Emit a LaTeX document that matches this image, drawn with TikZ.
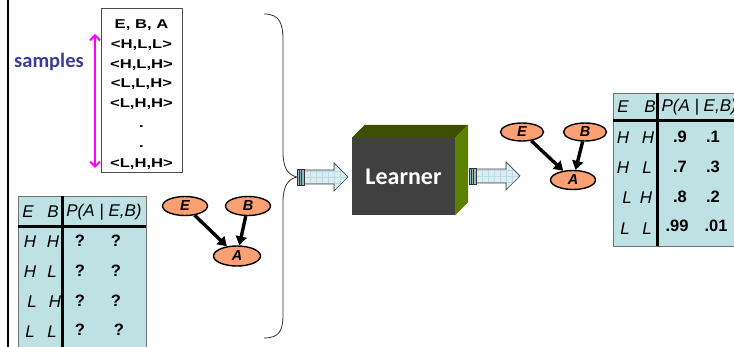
\documentclass[tikz,border=0pt]{standalone}
\usepackage{fontspec}
\setmainfont{Liberation Sans}
\newfontfamily\datafont[FakeStretch=1.3]{Liberation Sans}
\newfontfamily\calfont{Carlito}
\usetikzlibrary{shapes.geometric,arrows.meta,calc}

\definecolor{cptblue}{RGB}{190,225,228}
\definecolor{bnorange}{RGB}{250,160,115}
\definecolor{samplecol}{RGB}{60,60,150}
\definecolor{cubefront}{RGB}{64,64,64}
\definecolor{cubetop}{RGB}{62,80,0}
\definecolor{cubeside}{RGB}{92,128,0}
\definecolor{arrowfill}{RGB}{218,238,242}
\definecolor{arrowgrid}{RGB}{188,218,226}
\definecolor{tailfill}{RGB}{150,185,188}
\definecolor{spanpink}{RGB}{255,0,255}

\tikzset{
  blockarrow/.pic={
    \path[fill=arrowfill] (7,-7) -- (37,-7) -- (37,-14) -- (51,0) -- (37,14) -- (37,7) -- (7,7) -- cycle;
    \begin{scope}
      \clip (7,-7) -- (37,-7) -- (37,-14) -- (51,0) -- (37,14) -- (37,7) -- (7,7) -- cycle;
      \foreach \gx in {13,19,...,49} \draw[arrowgrid, line width=0.4pt] (\gx,-15) -- (\gx,15);
      \foreach \gy in {-12,-6,0,6,12} \draw[arrowgrid, line width=0.4pt] (7,\gy) -- (52,\gy);
    \end{scope}
    \draw[black!75, line width=0.7pt, line join=miter] (7,-7) -- (37,-7) -- (37,-14) -- (51,0) -- (37,14) -- (37,7) -- (7,7);
    \filldraw[fill=tailfill, draw=black!80, line width=0.7pt] (0,-8) rectangle (7,8);
    \draw[black!80, line width=0.6pt] (2.5,-8) -- (2.5,8) (4.5,-8) -- (4.5,8);
  }
}

\begin{document}
\begin{tikzpicture}[x=1pt,y=-1pt,
  bnnode/.style={ellipse, draw, line width=1.4pt, fill=bnorange, inner sep=0pt,
    minimum width=45, minimum height=19, font=\bfseries\itshape\fontsize{14.5}{14.5}\selectfont},
  bnedge/.style={-{Triangle[length=9pt,width=11pt]}, line width=3.4pt},
  cptbox/.style={draw=black!55, line width=0.6pt, fill=cptblue, anchor=north west, inner sep=0pt},
  cptvar/.style={font=\itshape\fontsize{17}{17}\selectfont},
  cptval/.style={font=\bfseries\fontsize{16.5}{16.5}\selectfont},
  hdrline/.style={line width=3pt},
  dataline/.style={font=\datafont\bfseries\fontsize{12.8}{12.8}\selectfont, anchor=base},
]
\useasboundingbox (0,0) rectangle (734,347);
\clip (0,0) rectangle (734,347);

% left margin rule
\draw[line width=2.2pt] (8,-2) -- (8,350);

% ---------- data samples ----------
\node[draw=black!70, line width=0.8pt, minimum width=81, minimum height=164, inner sep=0pt] (databox) at (141.5,90) {};
\node[dataline] (h0) at (141.5,28.5) {E, B, A};
\node[dataline] (s1) at (141.5,48.3) {<H,L,L>};
\node[dataline] (s2) at (141.5,68.1) {<H,L,H>};
\node[dataline] (s3) at (141.5,87.9) {<L,L,H>};
\node[dataline] (s4) at (141.5,107.7) {<L,H,H>};
\node[dataline] (d1) at (141.5,127.5) {.};
\node[dataline] (d2) at (141.5,147.3) {.};
\node[dataline] (s5) at (141.5,167.1) {<L,H,H>};

\node[font=\calfont\bfseries\fontsize{20.5}{20.5}\selectfont, text=samplecol] (samplelbl) at (49,62) {samples};
\coordinate (magtop) at (95,34);
\coordinate (magbot) at (95,168);
\draw[spanpink, line width=2pt, {Straight Barb[length=5pt,width=10pt]}-{Straight Barb[length=5pt,width=10pt]}] (magtop) -- (magbot);

% ---------- prior CPT (unknown) ----------
\node[cptbox, minimum width=128, minimum height=170] (cptL) at (18,196) {};
\draw[hdrline] (18,227) -- (146,227);
\draw[hdrline] (62,196) -- (62,350);
\node[cptvar] (lhE) at (28,212) {E};
\node[cptvar] (lhB) at (53,212) {B};
\node[cptvar] (lhP) at (104,212) {P(A | E,B)};
\node[cptvar] (l1a) at (30,242) {H};  \node[cptvar] (l1b) at (53,242) {H};
\node[cptvar] (l2a) at (30,272) {H};  \node[cptvar] (l2b) at (52,272) {L};
\node[cptvar] (l3a) at (32,302) {L};  \node[cptvar] (l3b) at (55,302) {H};
\node[cptvar] (l4a) at (30,332) {L};  \node[cptvar] (l4b) at (52,332) {L};
\node[cptval] (q1a) at (80,241) {?}; \node[cptval] (q1b) at (116,241) {?};
\node[cptval] (q2a) at (80,271) {?}; \node[cptval] (q2b) at (116,271) {?};
\node[cptval] (q3a) at (80,301) {?}; \node[cptval] (q3b) at (116,301) {?};
\node[cptval] (q4a) at (80,330) {?}; \node[cptval] (q4b) at (119,330) {?};

% ---------- prior network ----------
\node[bnnode] (E1) at (185,206) {E};
\node[bnnode] (B1) at (248,206) {B};
\node[bnnode, minimum width=47, minimum height=20] (A1) at (237,256) {A};
\draw[bnedge] (E1) -- (A1);
\draw[bnedge] (B1) -- (A1);

% ---------- brace gathering the inputs ----------
\coordinate (bracetip) at (297,177);
\draw[black!80, line width=0.8pt]
  (264,14) .. controls (280,14) and (283,24) .. (283,40) -- (283,152)
  .. controls (283,168) and (288,175) .. (bracetip)
  .. controls (288,179) and (283,186) .. (283,202) -- (283,314)
  .. controls (283,330) and (280,338) .. (264,338);

% ---------- learner ----------
\node[fill=cubefront, minimum width=103, minimum height=77, inner sep=0pt, text=white,
  font=\calfont\bfseries\fontsize{24}{24}\selectfont] (learner) at (403.5,176.5) {\raisebox{-1.5pt}{Learner}};
\fill[cubetop] (learner.north west) -- ++(13,-13) -- ($(learner.north east)+(13,-13)$) -- (learner.north east) -- cycle;
\fill[cubeside] (learner.north east) -- ++(13,-13) -- ($(learner.south east)+(13,-13)$) -- (learner.south east) -- cycle;

\coordinate (outtail) at (469,176);
\pic at (bracetip) {blockarrow};
\pic at (outtail) {blockarrow};

% ---------- learned network ----------
\node[bnnode, minimum width=43, minimum height=18] (E2) at (522,132) {E};
\node[bnnode, minimum width=43, minimum height=18] (B2) at (585,132) {B};
\node[bnnode, minimum width=45, minimum height=19] (A2) at (573,180) {A};
\draw[bnedge] (E2) -- (A2);
\draw[bnedge] (B2) -- (A2);

% ---------- learned CPT ----------
\node[cptbox, minimum width=140, minimum height=153] (cptR) at (613,93) {};
\draw[hdrline] (613,121) -- (760,121);
\draw[hdrline] (657,93) -- (657,246);
\node[cptvar] (rhE) at (623,107) {E};
\node[cptvar] (rhB) at (650,107) {B};
\node[cptvar, anchor=west] (rhP) at (658,107) {P(A | E,B)};
\node[cptvar] (r1a) at (623,138) {H}; \node[cptvar] (r1b) at (648,138) {H};
\node[cptvar] (r2a) at (623,168) {H}; \node[cptvar] (r2b) at (647,168) {L};
\node[cptvar] (r3a) at (627,198) {L}; \node[cptvar] (r3b) at (646,198) {H};
\node[cptvar] (r4a) at (625,229) {L}; \node[cptvar] (r4b) at (647,229) {L};
\node[cptval] (v1a) at (680,137) {.9};  \node[cptval] (v1b) at (713,137) {.1};
\node[cptval] (v2a) at (680,167) {.7};  \node[cptval] (v2b) at (713,167) {.3};
\node[cptval] (v3a) at (680,197) {.8};  \node[cptval] (v3b) at (713,197) {.2};
\node[cptval] (v4a) at (677,226) {.99}; \node[cptval] (v4b) at (716,226) {.01};
\end{tikzpicture}
\end{document}
